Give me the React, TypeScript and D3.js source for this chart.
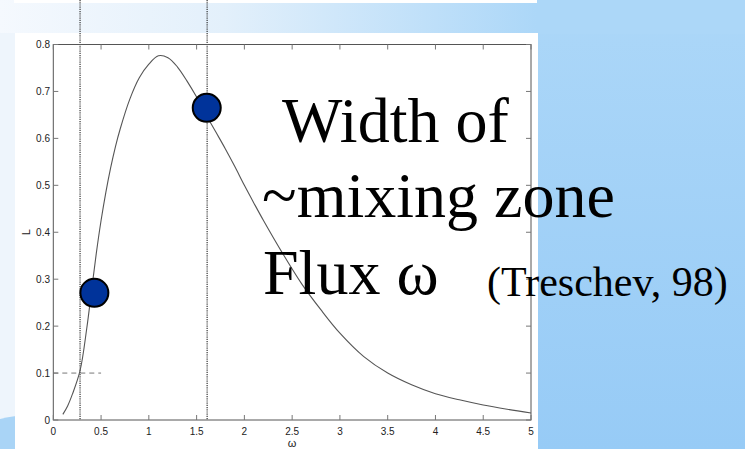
import React from "react";
import * as d3 from "d3";

// Curve samples: flux ω vs. width L
const omega = [0.1, 0.15, 0.2, 0.28, 0.35, 0.4, 0.45, 0.5, 0.55, 0.6, 0.65, 0.7, 0.8, 0.9, 1.0, 1.1, 1.2, 1.3, 1.4, 1.5, 1.6, 1.7, 1.8, 1.9, 2.0, 2.1, 2.2, 2.4, 2.6, 2.8, 3.0, 3.25, 3.5, 3.75, 4.0, 4.25, 4.5, 4.75, 5.0];
const widthL = [0.012, 0.03, 0.055, 0.105, 0.195, 0.275, 0.355, 0.425, 0.485, 0.537, 0.582, 0.62, 0.683, 0.729, 0.758, 0.776, 0.772, 0.752, 0.722, 0.688, 0.65, 0.614, 0.578, 0.54, 0.5, 0.462, 0.425, 0.355, 0.29, 0.235, 0.185, 0.135, 0.1, 0.075, 0.056, 0.043, 0.032, 0.023, 0.015];

// Highlighted points
const markerOmega = [0.43, 1.606];
const markerL = [0.271, 0.665];

// Reference lines
const verticalRefOmega = [0.28, 1.61];
const horizontalRefL = [0.1];
const horizontalRefEnd = 0.5;

const xTicks = [0, 0.5, 1, 1.5, 2, 2.5, 3, 3.5, 4, 4.5, 5];
const yTicks = [0, 0.1, 0.2, 0.3, 0.4, 0.5, 0.6, 0.7, 0.8];

const textLines = ["Width of", "~mixing zone", "Flux ω"];
const citation = "(Treschev, 98)";

const W = 745;
const H = 449;

export default function App() {
  const x = d3.scaleLinear().domain([0, 5]).range([53.3, 531]);
  const y = d3.scaleLinear().domain([0, 0.8]).range([420, 44.5]);
  const [x0, x1] = x.range();
  const [y0, y1] = y.range();

  const pts: [number, number][] = omega.map((w, i) => [w, widthL[i]]);
  const line = d3
    .line<[number, number]>()
    .x((d) => x(d[0]))
    .y((d) => y(d[1]))
    .curve(d3.curveCatmullRom.alpha(0.5));

  const tickLen = 5;
  const labelFont = "'Liberation Sans', Arial, sans-serif";
  const serif = "'Liberation Serif', 'Times New Roman', serif";

  return (
    <svg
      width={W}
      height={H}
      viewBox={`0 0 ${W} ${H}`}
      style={{ position: "absolute", left: 0, top: 0, display: "block" }}
    >
      <defs>
        <linearGradient id="sideBlue" x1="0" y1="0" x2="0" y2="1">
          <stop offset="0" stopColor="#acd7f8" />
          <stop offset="1" stopColor="#97cbf6" />
        </linearGradient>
        <linearGradient id="topBand" x1="0" y1="0" x2="1" y2="0">
          <stop offset="0" stopColor="#f5f9fe" />
          <stop offset="0.3" stopColor="#e3f0fb" />
          <stop offset="0.72" stopColor="#acd7f8" />
          <stop offset="1" stopColor="#acd7f8" />
        </linearGradient>
      </defs>

      {/* slide background */}
      <rect x={0} y={0} width={W} height={H} fill="url(#sideBlue)" />
      <rect x={0} y={0} width={W} height={34} fill="url(#topBand)" />
      <rect x={0} y={33} width={16} height={H - 33} fill="#eef5fc" />
      <path d={`M0,419 Q8,417 16,416 L16,${H} L0,${H} Z`} fill="#a9d4f6" />
      <rect x={14} y={0} width={523} height={3} fill="#ffffff" />
      <rect x={15} y={33} width={523} height={H - 33} fill="#ffffff" />

      {/* reference lines */}
      {verticalRefOmega.map((w, i) => (
        <line
          key={`v${i}`}
          x1={x(w)}
          x2={x(w)}
          y1={0}
          y2={y0}
          stroke="#222"
          strokeWidth={1.1}
          strokeDasharray="1.2,1"
        />
      ))}
      {horizontalRefL.map((l, i) => (
        <line
          key={`h${i}`}
          x1={x0}
          x2={x(horizontalRefEnd)}
          y1={y(l)}
          y2={y(l)}
          stroke="#777"
          strokeWidth={1}
          strokeDasharray="5,4"
        />
      ))}

      {/* axes box */}
      <rect
        x={x0}
        y={y1}
        width={x1 - x0}
        height={y0 - y1}
        fill="none"
        stroke="#555"
        strokeWidth={1}
      />
      {xTicks.map((t) => (
        <g key={`xt${t}`}>
          <line x1={x(t)} x2={x(t)} y1={y0} y2={y0 - tickLen} stroke="#777" />
          <line x1={x(t)} x2={x(t)} y1={y1} y2={y1 + tickLen} stroke="#777" />
          <text
            x={x(t)}
            y={435}
            textAnchor="middle"
            fontFamily={labelFont}
            fontSize={10}
            fill="#222"
          >
            {String(t)}
          </text>
        </g>
      ))}
      {yTicks.map((t) => (
        <g key={`yt${t}`}>
          <line x1={x0} x2={x0 + tickLen} y1={y(t)} y2={y(t)} stroke="#777" />
          <line x1={x1} x2={x1 - tickLen} y1={y(t)} y2={y(t)} stroke="#777" />
          <text
            x={50}
            y={y(t) + 3.5}
            textAnchor="end"
            fontFamily={labelFont}
            fontSize={10}
            fill="#222"
          >
            {String(t)}
          </text>
        </g>
      ))}
      <text
        x={(x0 + x1) / 2}
        y={447}
        textAnchor="middle"
        fontFamily={labelFont}
        fontSize={11}
        fill="#222"
      >
        ω
      </text>
      <text
        transform={`translate(30,${(y0 + y1) / 2}) rotate(-90)`}
        textAnchor="middle"
        fontFamily={labelFont}
        fontSize={11}
        fill="#222"
      >
        L
      </text>

      {/* curve */}
      <path d={line(pts) ?? ""} fill="none" stroke="#555" strokeWidth={1.1} />

      {/* markers */}
      {markerOmega.map((w, i) => (
        <circle
          key={`m${i}`}
          cx={x(w)}
          cy={y(markerL[i])}
          r={14}
          fill="#00339a"
          stroke="#000"
          strokeWidth={2}
        />
      ))}

      {/* annotation */}
      <text x={282} y={142} fontFamily={serif} fontSize={64} fill="#000">
        {textLines[0]}
      </text>
      <text x={262} y={217} fontFamily={serif} fontSize={64} fill="#000">
        {textLines[1]}
      </text>
      <text x={263} y={294} fontFamily={serif} fontSize={64} fill="#000">
        {textLines[2]}
      </text>
      <text x={487} y={296} fontFamily={serif} fontSize={42} fill="#000">
        {citation}
      </text>
    </svg>
  );
}
